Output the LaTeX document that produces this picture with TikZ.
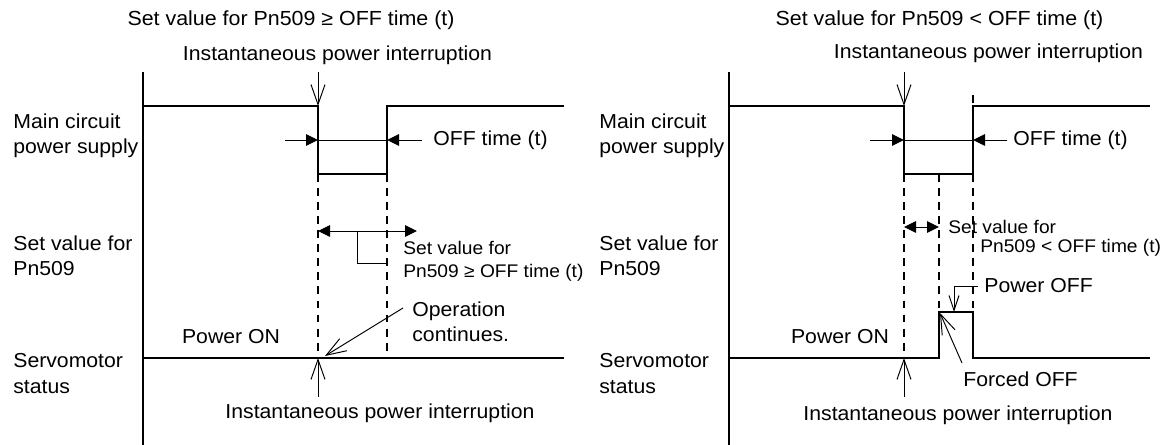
\documentclass[tikz,border=0pt]{standalone}
\usepackage{fontspec}
\setmainfont{Liberation Sans}[FakeStretch=1.05]
\usetikzlibrary{arrows.meta}

\begin{document}
\begin{tikzpicture}[x=1cm,y=1cm,>={Triangle[length=2.4mm,width=2.3mm]},
  every node/.style={font=\fontsize{11.5}{14.5}\selectfont,inner sep=0pt},
  small/.style={font=\fontsize{10.4}{13}\selectfont},
  headline/.style={font=\fontsize{11.6}{14.5}\selectfont},
  sig/.style={line width=1.1pt},
  axis/.style={line width=0.9pt},
  guide/.style={line width=0.75pt,dash pattern=on 4.5pt off 3.5pt},
  leader/.style={line width=0.55pt},
  pointer/.style={leader,-{Straight Barb[length=4mm,width=2.8mm]}},
  minipointer/.style={leader,-{Straight Barb[length=3mm,width=2mm]}}]
\useasboundingbox (0,0) rectangle (23.40,-8.90);
\node[headline] (Ltitle) at (5.82,-0.40) {Set value for Pn509 ≥ OFF time (t)};
\node (Lint) at (6.75,-1.10) {Instantaneous power interruption};
\node[anchor=west,align=left] (Lmain) at (0.26,-2.72) {Main circuit\\power supply};
\node[anchor=west,align=left] (Lset) at (0.26,-5.12) {Set value for\\Pn509};
\node[anchor=west,align=left] (Lservo) at (0.26,-7.47) {Servomotor\\status};
\node[anchor=west] (Loff) at (8.66,-2.80) {OFF time (t)};
\node[anchor=west,align=left,small] (Lcmp) at (8.06,-5.23) {Set value for\\Pn509 ≥ OFF time (t)};
\node[anchor=west,align=left] (Lopc) at (8.24,-6.44) {Operation\\continues.};
\node (Lon) at (4.62,-6.74) {Power ON};
\node (Lbot) at (7.60,-8.26) {Instantaneous power interruption};
\coordinate (Lfall) at (6.36,-2.12);
\coordinate (Lrise) at (7.74,-2.12);
\coordinate (Ltop) at (6.36,-1.44);
\coordinate (Lleft) at (5.70,-2.80);
\coordinate (Lcut) at (6.36,-7.16);
\coordinate (Lfoot) at (6.36,-7.94);
\coordinate (Lopctip) at (6.50,-7.12);
\draw[axis] (2.86,-1.44) -- (2.86,-8.90);
\draw[sig] (2.86,-2.12) -- (Lfall) -- (6.36,-3.48) -- (7.74,-3.48) -- (Lrise) -- (11.28,-2.12);
\draw[leader] (6.36,-2.80) -- (7.74,-2.80);
\draw[leader,->] (Lleft) -- (Lfall |- Lleft);
\draw[leader,->] ([xshift=-0.22cm]Loff.west) -- (Lrise |- Loff);
\draw[pointer] (Ltop) -- (Lfall);
\draw[guide] (6.36,-3.48) -- (Lcut);
\draw[guide] (7.74,-3.48) -- (7.74,-7.16);
\draw[sig] (2.86,-7.16) -- (11.28,-7.16);
\draw[leader,<->] (6.36,-4.62) -- (8.34,-4.62);
\draw[leader] (7.14,-4.62) -- (7.14,-5.26) -- (7.74,-5.26);
\draw[pointer] ([shift={(-0.18,0.28)}]Lopc.west) -- (Lopctip);
\draw[pointer] (Lfoot) -- (Lcut);
\node[headline] (Rtitle) at (18.79,-0.40) {Set value for Pn509 < OFF time (t)};
\node (Rint) at (19.77,-1.06) {Instantaneous power interruption};
\node[anchor=west,align=left] (Rmain) at (11.98,-2.72) {Main circuit\\power supply};
\node[anchor=west,align=left] (Rset) at (11.98,-5.12) {Set value for\\Pn509};
\node[anchor=west,align=left] (Rservo) at (11.98,-7.47) {Servomotor\\status};
\node[anchor=west] (Roff) at (20.26,-2.80) {OFF time (t)};
\node[anchor=west,small] (Rcmpa) at (18.96,-4.54) {Set value for};
\node[anchor=west,small] (Rcmpb) at (19.60,-4.96) {Pn509 < OFF time (t)};
\node[anchor=west] (Rpoff) at (19.68,-5.72) {Power OFF};
\node[anchor=west] (Rfoff) at (19.26,-7.58) {Forced OFF};
\node (Ron) at (16.80,-6.74) {Power ON};
\node (Rbot) at (19.16,-8.30) {Instantaneous power interruption};
\coordinate (Rfall) at (18.08,-2.12);
\coordinate (Rrise) at (19.46,-2.12);
\coordinate (Rtop) at (18.08,-1.44);
\coordinate (Rleft) at (17.40,-2.80);
\coordinate (Rcut) at (18.08,-7.16);
\coordinate (Rfoot) at (18.08,-7.94);
\coordinate (Rup) at (18.78,-6.24);
\coordinate (Rdown) at (19.46,-6.24);
\coordinate (Rpofftip) at (19.08,-6.24);
\draw[axis] (14.58,-1.44) -- (14.58,-8.90);
\draw[sig] (14.58,-2.12) -- (Rfall) -- (18.08,-3.48) -- (19.46,-3.48) -- (Rrise) -- (23.00,-2.12);
\draw[leader] (18.08,-2.80) -- (19.46,-2.80);
\draw[leader,->] (Rleft) -- (Rfall |- Rleft);
\draw[leader,->] ([xshift=-0.12cm]Roff.west) -- (Rrise |- Roff);
\draw[pointer] (Rtop) -- (Rfall);
\draw[guide] (19.46,-1.90) -- (Rrise);
\draw[guide] (18.08,-3.48) -- (Rcut);
\draw[guide] (18.78,-3.48) -- (Rup);
\draw[guide] (19.46,-3.48) -- (Rdown);
\draw[sig] (14.58,-7.16) -- (18.78,-7.16) -- (Rup) -- (Rdown) -- (19.46,-7.16) -- (23.00,-7.16);
\draw[leader,<->] (18.08,-4.54) -- (Rup |- Rcmpa);
\draw[minipointer] ([xshift=-0.12cm]Rpoff.west) -| (Rpofftip);
\draw[pointer] ([shift={(-0.02,0.32)}]Rfoff.west) -- (18.80,-6.26);
\draw[pointer] (Rfoot) -- (Rcut);
\end{tikzpicture}
\end{document}
